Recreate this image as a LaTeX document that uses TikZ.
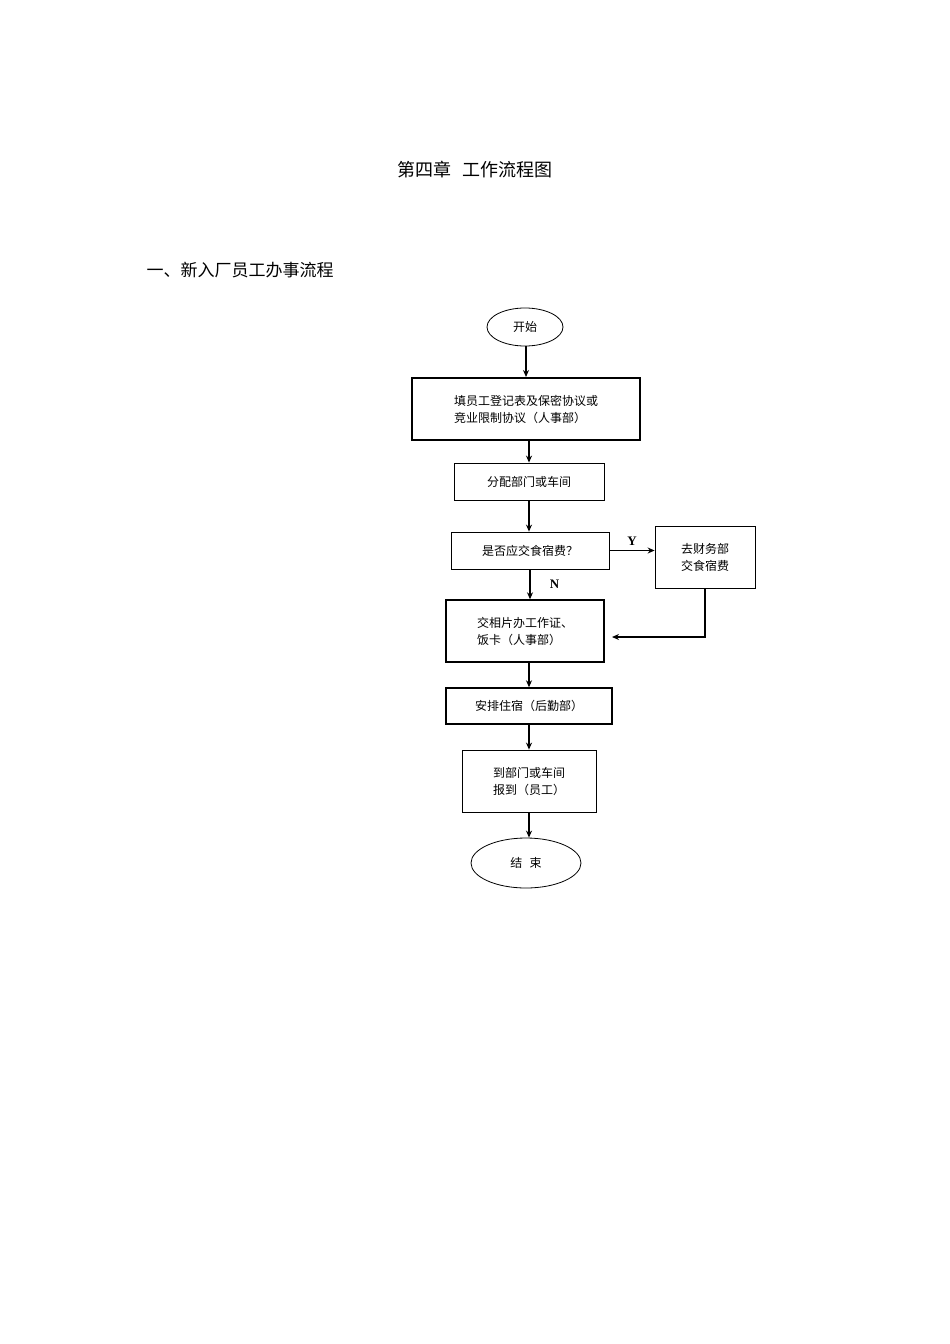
\documentclass[tikz,border=0pt]{standalone}
\usepackage{fontspec}
\setmainfont{Liberation Serif}
\newfontfamily\cjk{Noto Sans CJK SC}
\usetikzlibrary{shapes.geometric,arrows.meta}
\begin{document}
\begin{tikzpicture}[x=1pt,y=-1pt,
  bx/.style={draw,line width=0.8pt,inner sep=0pt,font=\cjk\fontsize{12}{17}\selectfont,align=left},
  thk/.style={bx,line width=1.4pt},
  ov/.style={draw,ellipse,line width=0.8pt,inner sep=0pt,font=\cjk\fontsize{12}{14}\selectfont},
  ar/.style={-{Stealth[length=7pt,width=6pt]},line width=1.2pt},
  lb/.style={font=\bfseries\fontsize{13}{13}\selectfont}]
\useasboundingbox (0,0) rectangle (950,1344);
\node[font=\cjk\fontsize{18}{20}\selectfont] (title) at (475,170) {第四章\hspace{0.6em}工作流程图};
\node[font=\cjk\fontsize{17}{20}\selectfont,anchor=west] (sub) at (143,270) {一、新入厂员工办事流程};
\node[ov,minimum width=76,minimum height=38] (s) at (525,327) {开始};
\node[thk,minimum width=228,minimum height=62] (b1) at (526,409) {填员工登记表及保密协议或\\竞业限制协议（人事部）};
\node[bx,minimum width=150,minimum height=37] (b2) at (529,481.5) {分配部门或车间};
\node[bx,minimum width=158,minimum height=37] (b3) at (530,550.5) {是否应交食宿费？};
\node[bx,minimum width=100,minimum height=62] (b4) at (705,557) {去财务部\\交食宿费};
\node[thk,minimum width=158,minimum height=62] (b5) at (525,631) {交相片办工作证、\\饭卡（人事部）};
\node[thk,minimum width=166,minimum height=36] (b6) at (529,706) {安排住宿（后勤部）};
\node[bx,minimum width=134,minimum height=62] (b7) at (529,781) {到部门或车间\\报到（员工）};
\node[ov,minimum width=110,minimum height=50] (e) at (526,863) {结\hspace{0.6em}束};
\draw[ar] (s.south -| 526,0) -- (526,377);
\draw[ar] (b1.south -| b2) -- (b2.north);
\draw[ar] (b2) -- (b2 |- b3.north);
\draw[ar] (b3.east) -- (b4.west |- b3.east) node[lb,midway,above=1pt] {Y};
\draw[ar] (b3.south) -- (b3 |- b5.north) node[lb,pos=0.5,right=16pt] {N};
\coordinate (c1) at (b4.south |- 0,637);
\draw[ar] (b4.south) -- (c1) -- (612,637);
\draw[ar] (b5.south -| b6) -- (b6.north);
\draw[ar] (b6.south -| b7) -- (b7.north);
\draw[ar] (b7.south) -- (e.north -| b7);
\end{tikzpicture}
\end{document}
